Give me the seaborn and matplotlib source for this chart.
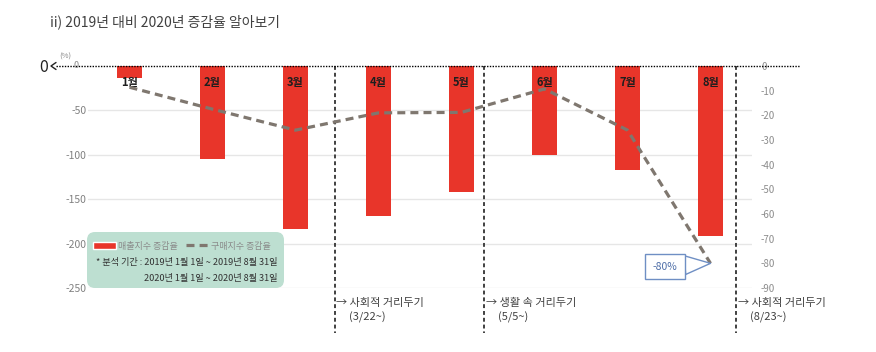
import numpy as np
import pandas as pd
import matplotlib
matplotlib.use('Agg')
import matplotlib.pyplot as plt
import seaborn as sns
from matplotlib.patches import FancyBboxPatch, Patch
from matplotlib.lines import Line2D
from matplotlib.transforms import IdentityTransform

# ---- data ----
months = ['1월', '2월', '3월', '4월', '5월', '6월', '7월', '8월']
sales_change = [-14, -105, -184, -169, -142, -100, -117, -191]
purchase_change = [-8.6, -17.5, -26, -19, -18.8, -9.3, -26, -80]
left_ticks = [-250, -200, -150, -100, -50]
right_ticks = [0, -10, -20, -30, -40, -50, -60, -70, -80, -90]
policy_pos = [2.47, 4.27, 7.31]
policy_names = ['→ 사회적 거리두기', '→ 생활 속 거리두기', '→ 사회적 거리두기']
policy_dates = ['(3/22~)', '(5/5~)', '(8/23~)']
title = 'ii) 2019년 대비 2020년 증감율 알아보기'
legend_labels = ['매출지수 증감율', '구매지수 증감율']
period_lines = ['* 분석 기간 : 2019년 1월 1일 ~ 2019년 8월 31일',
                '2020년 1월 1일 ~ 2020년 8월 31일']
callout_text = '-80%'

RED = '#E8352A'
GRAY_LINE = '#7F776F'

sns.set_theme(style='white')
plt.rcParams['font.family'] = ['Noto Sans CJK KR', 'DejaVu Sans']
plt.rcParams['axes.unicode_minus'] = False

W, H = 876, 352
fig = plt.figure(figsize=(W / 100, H / 100), dpi=100)


def fx(x):
    return x / W


def fy(y):
    return 1 - y / H


ax = fig.add_axes([fx(88), fy(288), fx(752) - fx(88), fy(66) - fy(288)])
df = pd.DataFrame({'month': months, 'sales': sales_change, 'purchase': purchase_change})

sns.barplot(data=df, x='month', y='sales', color=RED, width=0.31,
            saturation=1, ax=ax, linewidth=0)

ax2 = ax.twinx()
sns.lineplot(data=df, x='month', y='purchase', ax=ax2, color=GRAY_LINE,
             lw=2.3, sort=False)
ax2.lines[0].set_dashes([2.5, 1.6])

for a in (ax, ax2):
    for s in a.spines.values():
        s.set_visible(False)
    a.set_xlabel('')
    a.set_ylabel('')

ax.set_xticks([])
ax.set_yticks(left_ticks)
ax.tick_params(axis='y', length=0, pad=1, labelsize=7.5, labelcolor='#808080')
ax.grid(axis='y', color='#e6e6e6', lw=1)
ax.grid(axis='x', visible=False)

ax2.set_yticks(right_ticks)
ax2.tick_params(axis='y', length=0, pad=6.5, labelsize=7, labelcolor='#8c8c8c')
ax2.grid(False)

# month labels
for i, m in enumerate(months):
    ax.text(i, -18.5, m, ha='center', va='center', fontsize=8,
            fontweight='bold', color='#1e1e1e')

# policy lines and notes
for p, name, date in zip(policy_pos, policy_names, policy_dates):
    ax.plot([p, p], [0, -301], color='#404040', lw=1.4,
            ls=(0, (2, 1.5)), clip_on=False)
    ax.text(p + 0.02, -266.5, name, ha='left', va='center', fontsize=8,
            color='#404040', clip_on=False)
    ax.text(p + 0.17, -283.5, date, ha='left', va='center', fontsize=8,
            color='#404040', clip_on=False)

ax.set_xlim(-0.5, 7.5)
ax.set_ylim(-250, 0)
ax2.set_ylim(-90, 0)

# callout
ax2.annotate(callout_text, xy=(7, -80), xytext=(6.45, -81.3), textcoords='data',
             ha='center', va='center', fontsize=7.5, color='#4f6fa8',
             bbox=dict(boxstyle='square,pad=0.7', fc='white', ec='#6f8fc4', lw=1),
             arrowprops=dict(arrowstyle='wedge,tail_width=1.8,shrink_factor=0.5',
                             fc='white', ec='#6f8fc4', lw=1, shrinkA=0, shrinkB=0))

# top zero line with arrow
fig.add_artist(Line2D([fx(56), fx(800)], [fy(66), fy(66)], color='black',
                      lw=1, ls=(0, (1, 1))))
fig.add_artist(Line2D([fx(56), fx(51), fx(56)], [fy(62.5), fy(66), fy(69.5)],
                      color='#222222', lw=1))
fig.text(fx(44), fy(67), '0', fontsize=11.5, ha='center', va='center', color='#222222')
fig.text(fx(65), fy(56.5), '(%)', fontsize=5.5, ha='center', va='center', color='#888888')
fig.text(fx(76), fy(66), '0', fontsize=6.5, ha='center', va='center', color='#888888')

# title
fig.text(fx(50), fy(22), title, fontsize=10, color='#404040', va='center', ha='left')

# legend box
box = FancyBboxPatch((87, H - 288), 197, 56, boxstyle='round,pad=0,rounding_size=8',
                     fc='#BDDFD1', ec='none', zorder=4)
box.set_transform(IdentityTransform())
fig.add_artist(box)

handles = [Patch(fc=RED, label=legend_labels[0]),
           Line2D([], [], color=GRAY_LINE, lw=2.3, dashes=(2.5, 1.6), label=legend_labels[1])]
leg = fig.legend(handles=handles, loc='center left', bbox_to_anchor=(fx(93), fy(246)),
                 ncol=2, frameon=False, fontsize=6.5, handlelength=2.5,
                 handletextpad=0.3, columnspacing=0.9, borderpad=0, borderaxespad=0)
leg.set_zorder(6)
for t in leg.get_texts():
    t.set_color('#8a8a8a')

fig.text(fx(278), fy(263), period_lines[0], ha='right', va='center', fontsize=6.6,
         color='#333333', zorder=6)
fig.text(fx(278), fy(279), period_lines[1], ha='right', va='center', fontsize=6.6,
         color='#333333', zorder=6)

fig.savefig('out.png', dpi=100)
